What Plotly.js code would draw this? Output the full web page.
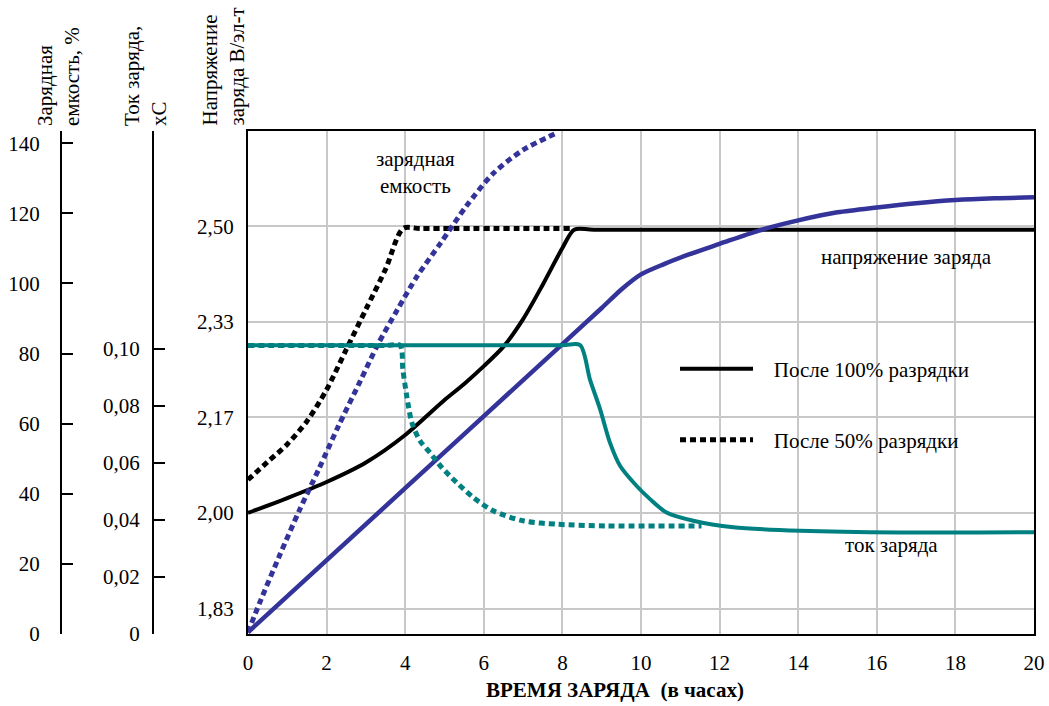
<!DOCTYPE html>
<html>
<head>
<meta charset="utf-8">
<script src="https://cdn.plot.ly/plotly-3.0.1.min.js"></script>
</head>
<body style="margin:0">
<div id="chart" style="width:1049px;height:706px"></div>
<script>
// ---- Data ----
// Charge voltage, V per cell (black)
const v100Hours = [0, 1, 2, 3, 4, 5, 5.5, 6, 6.5, 7, 7.5, 8, 8.3, 8.8, 20];
const v100Volts = [2.000, 2.026, 2.054, 2.088, 2.136, 2.197, 2.225, 2.256, 2.290, 2.338, 2.398, 2.462, 2.494, 2.494, 2.494];
const v50Hours = [0, 0.5, 1, 1.5, 2, 2.5, 3, 3.5, 3.95, 4.4, 8.2];
const v50Volts = [2.058, 2.089, 2.120, 2.160, 2.215, 2.285, 2.355, 2.425, 2.496, 2.496, 2.496];

// Charge capacity, % (blue)
const c100Hours = [0, 4, 8, 9, 9.5, 10, 10.6, 11.2, 12, 13, 14, 15, 16, 17, 18, 19, 20];
const c100Pct = [0.5, 41.6, 82.7, 93.0, 98.3, 102.6, 105.6, 108.2, 111.3, 115.1, 118.0, 120.3, 121.7, 122.9, 123.8, 124.3, 124.6];
const c50Hours = [0, 0.3, 0.8, 1.3, 1.8, 2.3, 2.85, 3.3, 3.8, 4.3, 4.9, 5.55, 6.25, 7.0, 7.85];
const c50Pct = [0.5, 9, 22.3, 35.1, 47, 59.3, 72, 82.5, 92.5, 102, 111.5, 122, 131.5, 138.1, 142.9];

// Charge current, xC (teal)
const i100Hours = [0, 8.0, 8.45, 8.7, 8.96, 9.21, 9.47, 9.89, 10.23, 10.65, 11.33, 12.35, 14.05, 16.59, 20];
const i100Cur = [0.1013, 0.1013, 0.1013, 0.0893, 0.0788, 0.0671, 0.0589, 0.0519, 0.0473, 0.0426, 0.0397, 0.0374, 0.0362, 0.0356, 0.0357];
const i50Hours = [0, 3.5, 3.87, 3.94, 4.04, 4.17, 4.38, 4.63, 4.93, 5.31, 5.73, 6.24, 7.0, 7.85, 9.12, 11.54];
const i50Cur = [0.1012, 0.1012, 0.1012, 0.0928, 0.0834, 0.0741, 0.0677, 0.0636, 0.0584, 0.0531, 0.0479, 0.0432, 0.0397, 0.0385, 0.0379, 0.0379];

// Ticks
const hourTicks = [0, 2, 4, 6, 8, 10, 12, 14, 16, 18, 20];
const voltTicks = [11/6, 2, 13/6, 7/3, 2.5];
const voltLabels = ['1,83', '2,00', '2,17', '2,33', '2,50'];
const capTicks = [0, 20, 40, 60, 80, 100, 120, 140];
const capLabels = ['0', '20', '40', '60', '80', '100', '120', '140'];
const curTicks = [0, 0.02, 0.04, 0.06, 0.08, 0.10];
const curLabels = ['0', '0,02', '0,04', '0,06', '0,08', '0,10'];

// Names
const name100 = 'После 100% разрядки';
const name50 = 'После 50% разрядки';

// ---- Styles ----
const BLACK = '#000000', BLUE = '#333399', TEAL = '#008080';
const DOTS = '6px,4px';
const GAP = '\u00a0\u00a0\u00a0';
function sp(o) { o.shape = 'spline'; o.smoothing = 0.8; return o; }
function ff(size) { return {family: 'Liberation Serif', size: size || 21, color: '#000000'}; }

const traces = [
  {x: i50Hours, y: i50Cur, yaxis: 'y3', mode: 'lines', line: sp({color: TEAL, width: 5, dash: DOTS}), showlegend: false, hoverinfo: 'skip'},
  {x: i100Hours, y: i100Cur, yaxis: 'y3', mode: 'lines', line: sp({color: TEAL, width: 4}), showlegend: false, hoverinfo: 'skip'},
  {x: v50Hours, y: v50Volts, yaxis: 'y', mode: 'lines', name: GAP + name50, legend: 'legend2', line: sp({color: BLACK, width: 5, dash: DOTS})},
  {x: v100Hours, y: v100Volts, yaxis: 'y', mode: 'lines', name: GAP + name100, legend: 'legend', line: sp({color: BLACK, width: 4})},
  {x: c50Hours, y: c50Pct, yaxis: 'y2', mode: 'lines', line: sp({color: BLUE, width: 5, dash: DOTS}), showlegend: false, hoverinfo: 'skip'},
  {x: c100Hours, y: c100Pct, yaxis: 'y2', mode: 'lines', line: sp({color: BLUE, width: 4.5}), showlegend: false, hoverinfo: 'skip'}
];

const W = 1034; // paper width in px (margin l=0, r=15)
const px = v => v / W;
const py = v => (634 - v) / 503;

const layout = {
  width: 1049, height: 706,
  margin: {l: 0, r: 15, t: 131, b: 72},
  paper_bgcolor: '#ffffff', plot_bgcolor: '#ffffff',
  xaxis: {
    domain: [248 / W, 1], range: [0, 20], tickvals: hourTicks, ticktext: hourTicks.map(String),
    showgrid: true, gridcolor: '#c8c8c8', gridwidth: 2, zeroline: false,
    showline: true, linecolor: '#000', linewidth: 2, mirror: true, ticks: '', ticklabelstandoff: 9,
    tickfont: ff()
  },
  yaxis: {
    range: [1.789, 2.666], tickvals: voltTicks, ticktext: voltLabels,
    showgrid: true, gridcolor: '#c8c8c8', gridwidth: 2, zeroline: false,
    showline: true, linecolor: '#000', linewidth: 2, mirror: true, ticks: '', ticklabelstandoff: 8,
    tickfont: ff()
  },
  yaxis2: {
    overlaying: 'y', anchor: 'free', position: px(61), side: 'left',
    range: [0, 143.5], tickvals: capTicks, ticktext: capLabels,
    showgrid: false, zeroline: false, showline: true, linecolor: '#000', linewidth: 2,
    ticks: 'inside', ticklen: 11, tickwidth: 2, tickcolor: '#000', ticklabelstandoff: 16,
    tickfont: ff()
  },
  yaxis3: {
    overlaying: 'y', anchor: 'free', position: px(153), side: 'left',
    range: [0, 0.1764], tickvals: curTicks, ticktext: curLabels,
    showgrid: false, zeroline: false, showline: true, linecolor: '#000', linewidth: 2,
    ticks: 'inside', ticklen: 11, tickwidth: 2, tickcolor: '#000', ticklabelstandoff: 8,
    tickfont: ff()
  },
  legend: {
    x: px(675), y: py(369), xanchor: 'left', yanchor: 'middle',
    bgcolor: 'rgba(0,0,0,0)', borderwidth: 0, itemwidth: 73, font: ff()
  },
  legend2: {
    x: px(675), y: py(440), xanchor: 'left', yanchor: 'middle',
    bgcolor: 'rgba(0,0,0,0)', borderwidth: 0, itemwidth: 73, font: ff()
  },
  shapes: [
    {type: 'rect', xref: 'paper', yref: 'paper', x0: px(752), x1: px(993), y0: py(393), y1: py(345), fillcolor: '#fff', line: {width: 0}, layer: 'between'},
    {type: 'rect', xref: 'paper', yref: 'paper', x0: px(752), x1: px(993), y0: py(467), y1: py(418), fillcolor: '#fff', line: {width: 0}, layer: 'between'}
  ],
  annotations: [
    {text: 'Зарядная<br>емкость, %', xref: 'paper', yref: 'paper', x: px(58.5), y: py(128), xanchor: 'center', yanchor: 'bottom', textangle: -90, align: 'left', showarrow: false, font: ff()},
    {text: 'Ток заряда,<br>xC', xref: 'paper', yref: 'paper', x: px(145), y: py(128), xanchor: 'center', yanchor: 'bottom', textangle: -90, align: 'left', showarrow: false, font: ff()},
    {text: 'Напряжение<br>заряда В/эл-т', xref: 'paper', yref: 'paper', x: px(222.5), y: py(128), xanchor: 'center', yanchor: 'bottom', textangle: -90, align: 'left', showarrow: false, font: ff()},
    {text: '<b>ВРЕМЯ ЗАРЯДА\u00a0\u00a0(в часах)</b>', xref: 'paper', yref: 'paper', x: px(615), y: py(690), xanchor: 'center', yanchor: 'middle', showarrow: false, font: ff(21)},
    {text: 'зарядная<br>емкость', xref: 'x', yref: 'y', x: 4.27, y: 2.593, xanchor: 'center', yanchor: 'middle', showarrow: false, font: ff()},
    {text: 'напряжение заряда', xref: 'x', yref: 'y', x: 16.76, y: 2.447, xanchor: 'center', yanchor: 'middle', showarrow: false, font: ff()},
    {text: 'ток заряда', xref: 'x', yref: 'y', x: 16.38, y: 1.944, xanchor: 'center', yanchor: 'middle', showarrow: false, font: ff()}
  ]
};

Plotly.newPlot('chart', traces, layout, {displayModeBar: false});
</script>
</body>
</html>
